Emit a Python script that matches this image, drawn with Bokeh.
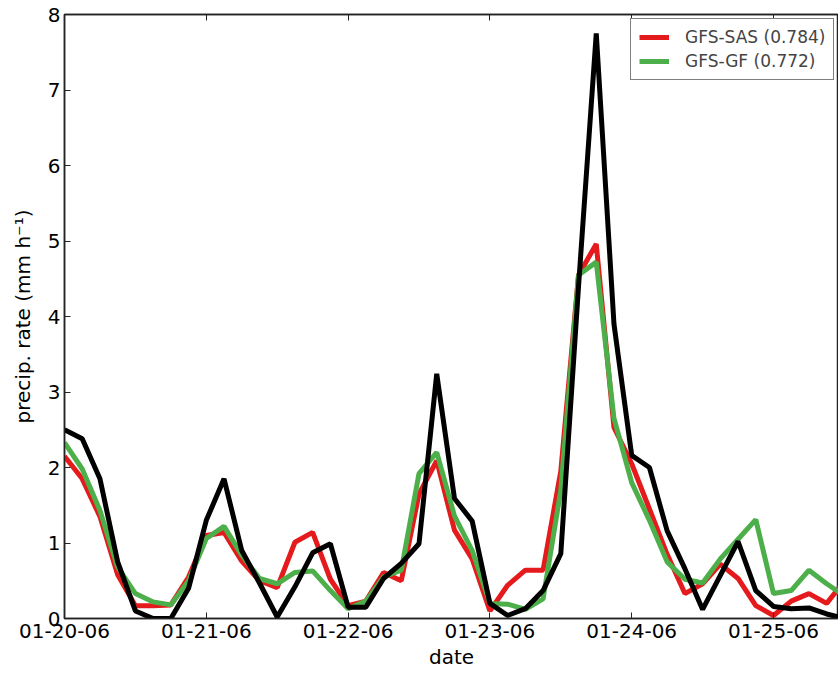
from datetime import datetime, timedelta

from bokeh.embed import file_html
from bokeh.models import (ColumnDataSource, CustomLabelingPolicy, DatetimeAxis,
                          DatetimeTickFormatter, FixedTicker, Legend, LegendItem,
                          Range1d)
from bokeh.plotting import figure
from bokeh.resources import INLINE

# 3-hourly precipitation rate (mm/h), starting 2006-01-20 00Z
start = datetime(2006, 1, 20)
step_hours = 3

observed = [2.50, 2.38, 1.85, 0.75, 0.10, 0.00, 0.00, 0.40, 1.30, 1.85,
            0.90, 0.47, 0.02, 0.42, 0.87, 0.99, 0.15, 0.15, 0.53, 0.73,
            0.99, 3.24, 1.59, 1.29, 0.20, 0.04, 0.13, 0.37, 0.86, 4.40,
            7.75, 3.90, 2.16, 2.00, 1.16, 0.66, 0.12, 0.57, 1.02, 0.37,
            0.16, 0.13, 0.14, 0.06, 0.00]
gfs_sas = [2.15, 1.85, 1.35, 0.58, 0.17, 0.17, 0.18, 0.55, 1.10, 1.14,
           0.76, 0.50, 0.41, 1.01, 1.14, 0.52, 0.17, 0.23, 0.61, 0.50,
           1.65, 2.09, 1.17, 0.79, 0.10, 0.44, 0.64, 0.64, 1.95, 4.55,
           4.96, 2.53, 2.05, 1.45, 0.85, 0.33, 0.46, 0.72, 0.53, 0.17,
           0.04, 0.23, 0.33, 0.20, 0.50]
gfs_gf = [2.33, 1.98, 1.43, 0.68, 0.33, 0.22, 0.18, 0.50, 1.06, 1.22,
          0.84, 0.53, 0.46, 0.61, 0.63, 0.37, 0.13, 0.23, 0.55, 0.64,
          1.92, 2.20, 1.36, 0.90, 0.20, 0.19, 0.12, 0.26, 1.70, 4.55,
          4.72, 2.65, 1.80, 1.30, 0.75, 0.52, 0.47, 0.79, 1.05, 1.31,
          0.33, 0.37, 0.64, 0.46, 0.30]

series_labels = ["GFS-SAS (0.784)", "GFS-GF (0.772)"]
tick_days = [0, 1, 2, 3, 4, 5]

times = [start + timedelta(hours=step_hours * i) for i in range(len(observed))]
src = ColumnDataSource(dict(t=times, obs=observed, sas=gfs_sas, gf=gfs_gf))

FONT = "DejaVu Sans"
SPINE = "#222222"

x_end = start + timedelta(hours=131)
p = figure(frame_width=774, frame_height=604, x_axis_type="datetime",
           x_range=Range1d(start, x_end), y_range=Range1d(0, 8),
           output_backend="svg", toolbar_location=None,
           min_border_left=64, min_border_right=0, min_border_top=14,
           min_border_bottom=58, background_fill_color="white",
           border_fill_color="white")
p.grid.visible = False
p.outline_line_color = SPINE
p.outline_line_width = 1.5

tick_ms = [(start + timedelta(days=d)).timestamp() * 1000 for d in tick_days]

xa = p.xaxis[0]
xa.ticker = FixedTicker(ticks=tick_ms)
xa.formatter = DatetimeTickFormatter(days="%m-%d-%y", months="%m-%d-%y",
                                     hours="%m-%d-%y")
xa.axis_label = "date"

ya = p.yaxis[0]
ya.ticker = FixedTicker(ticks=list(range(0, 9)))
ya.axis_label = "precip. rate (mm h\u207b\u00b9)"

for ax in (xa, ya):
    ax.axis_line_color = SPINE
    ax.axis_line_width = 1.5
    ax.major_tick_in = 6
    ax.major_tick_out = 0
    ax.major_tick_line_color = SPINE
    ax.minor_tick_line_color = None
    ax.major_label_text_font = FONT
    ax.major_label_text_font_size = "20px"
    ax.major_label_text_color = "black"
    ax.axis_label_text_font = FONT
    ax.axis_label_text_font_size = "20px"
    ax.axis_label_text_font_style = "normal"
    ax.axis_label_text_color = "black"
xa.major_label_standoff = 5
xa.axis_label_standoff = 4
ya.major_label_standoff = 4
ya.axis_label_standoff = 10

# tick marks along the top edge; its labels are all dropped
no_labels = CustomLabelingPolicy(code="""
    for (const i of Array.from(indices)) {
        indices.unset(i)
    }
    return indices
""")
top = DatetimeAxis(ticker=FixedTicker(ticks=tick_ms), major_tick_in=6,
                   major_tick_out=0, minor_tick_line_color=None,
                   major_label_policy=no_labels, major_label_standoff=0,
                   major_label_text_font_size="0px",
                   axis_line_color=SPINE, axis_line_width=1.5,
                   major_tick_line_color=SPINE)
p.add_layout(top, "above")

r_sas = p.line("t", "sas", source=src, line_color="#e41a1c", line_width=5)
r_gf = p.line("t", "gf", source=src, line_color="#4daf4a", line_width=5)
p.line("t", "obs", source=src, line_color="black", line_width=5)

legend = Legend(items=[LegendItem(label=series_labels[0], renderers=[r_sas]),
                       LegendItem(label=series_labels[1], renderers=[r_gf])],
                location=(566, 538), margin=0, padding=8, spacing=4,
                glyph_width=30, glyph_height=20, label_standoff=16,
                label_text_font=FONT, label_text_font_size="17px",
                border_line_color="black", border_line_width=1.5,
                background_fill_alpha=1.0)
p.add_layout(legend)

open("out.html", "w").write(file_html(p, INLINE))
